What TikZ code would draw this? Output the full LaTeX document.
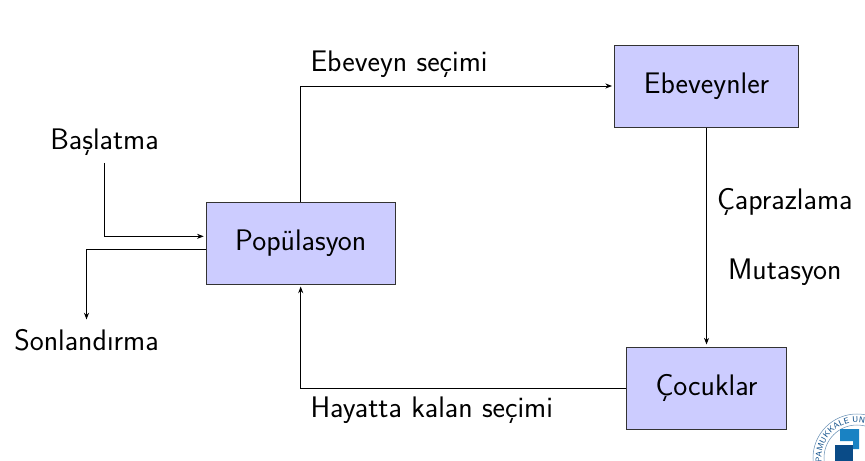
\documentclass[tikz,border=0pt]{standalone}
\usepackage{xcolor}
\usetikzlibrary{positioning,arrows.meta,calc,decorations.text}
\definecolor{boxblue}{RGB}{204,204,255}
\definecolor{logolight}{RGB}{25,130,195}
\definecolor{logodark}{RGB}{10,75,135}
\tikzset{
  box/.style={draw=black!80, fill=boxblue, line width=0.75pt, minimum height=61.5pt,
              font=\fontsize{22.3}{27}\selectfont\sffamily, inner sep=0pt},
  lbl/.style={font=\fontsize{22.3}{27}\selectfont\sffamily, inner sep=0pt, text=black},
  arrow/.style={-{Stealth[length=5pt,width=3.8pt]}, line width=0.7pt, black, shorten >=1.5pt},
}
\begin{document}
\begin{tikzpicture}[x=0.75pt,y=-0.75pt]
  \useasboundingbox (0,0) rectangle (865,461);
  \node[box, minimum width=141.75pt] (pop) at (300.7,243) {Popülasyon};
  \node[box, minimum width=138pt, above right=55.5pt and 163.75pt of pop] (ebeveyn) {Ebeveynler};
  \node[box, minimum width=120pt, below=164.25pt of ebeveyn] (cocuk) {Çocuklar};
  \node[lbl, inner sep=5pt] (basla) at (104.5,142.5) {Başlatma};
  \node[lbl, inner sep=6pt] (son) at (86.5,340.5) {Sonlandırma};
  \coordinate (popin) at ($(pop.west)+(0,5pt)$);
  \coordinate (popout) at ($(pop.west)+(0,-5pt)$);

  \draw[arrow] (basla.south) |- (popin);
  \draw[arrow] (popout) -| (son.north);
  \draw[arrow] (pop.north) |- node[lbl, above right, xshift=7pt, yshift=6pt] {Ebeveyn seçimi} (ebeveyn.west);
  \draw[arrow] (ebeveyn.south) -- node[lbl, right, xshift=7.5pt, align=center] {Çaprazlama\\[26pt]Mutasyon} (cocuk.north);
  \draw[arrow] (cocuk.west) -| node[lbl, below right, xshift=7pt, yshift=-6pt] {Hayatta kalan seçimi} (pop.south);

  \draw[logodark!60, line width=0.4pt] (857,458) circle[radius=44];
  \draw[logodark!60, line width=0.4pt] (857,458) circle[radius=33];
  \path[decorate, decoration={text along path, text align=left,
    text={|\fontsize{6.2}{7}\selectfont\sffamily\color{logodark}|PAMUKKALE UNIV}}]
    (857,458) ++(172:35.5) arc[start angle=172, end angle=300, radius=35.5];
  \fill[logolight] (840,429) -- (859,429) -- (859,449) -- (853,449) -- (853,441) -- (840,441) -- cycle;
  \fill[logodark] (835,445) -- (853,445) -- (853,461) -- (835,461) -- cycle;
\end{tikzpicture}
\end{document}
